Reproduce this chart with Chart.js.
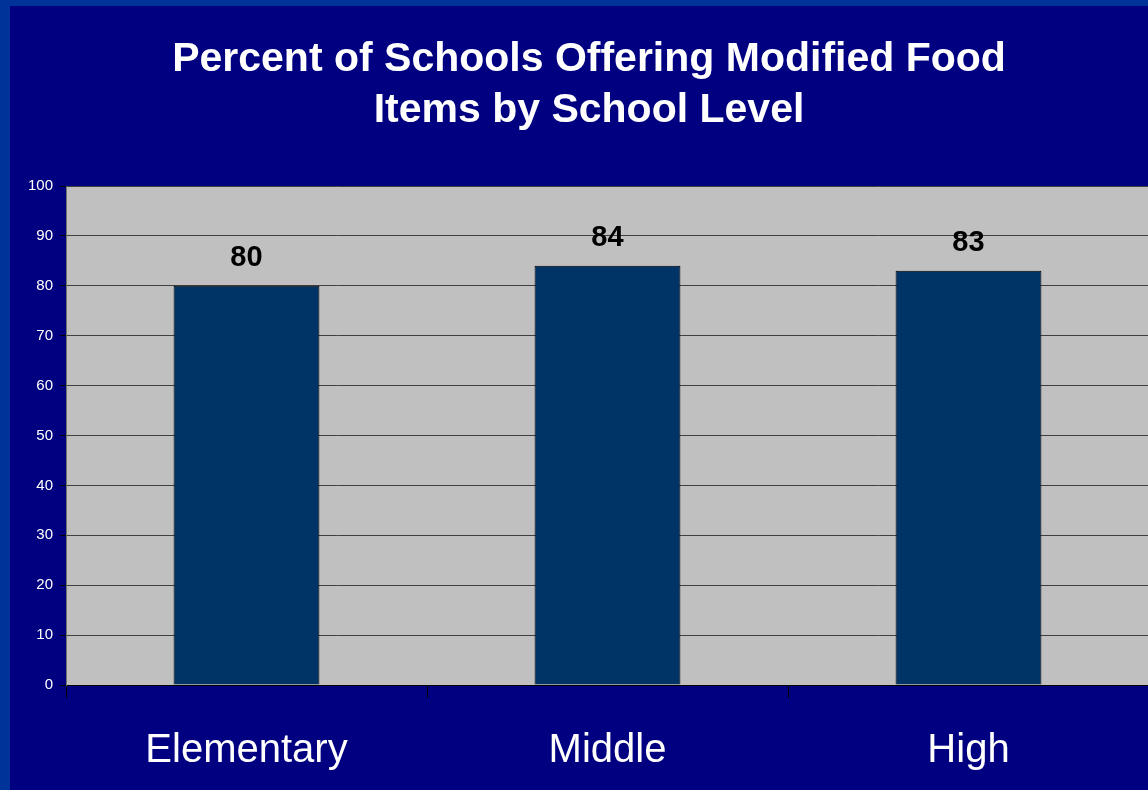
<!DOCTYPE html>
<html>
<head>
<meta charset="utf-8">
<script src="https://cdn.jsdelivr.net/npm/chart.js@4/dist/chart.umd.min.js"></script>
<style>
  html, body { margin: 0; padding: 0; overflow: hidden; background: #000080; }
  #wrap { position: absolute; left: 0; top: 0; width: 1151px; height: 790px; }
</style>
</head>
<body>
<div id="wrap"><canvas id="c" width="1151" height="790"></canvas></div>
<script>
const titleLines = ["Percent of Schools Offering Modified Food", "Items by School Level"];
const categories = ["Elementary", "Middle", "High"];
const values = [80, 84, 83];
const yTicks = [0, 10, 20, 30, 40, 50, 60, 70, 80, 90, 100];

const bgPlugin = {
  id: 'bg',
  beforeDraw(chart) {
    const ctx = chart.ctx;
    const a = chart.chartArea;
    ctx.save();
    ctx.fillStyle = '#003399';
    ctx.fillRect(0, 0, chart.width, chart.height);
    ctx.fillStyle = '#000080';
    ctx.fillRect(10, 6, chart.width - 10, chart.height - 6);
    ctx.fillStyle = '#C0C0C0';
    ctx.fillRect(a.left, a.top, a.right - a.left + 3, a.bottom - a.top);
    ctx.restore();
  },
  afterDraw(chart) {
    const ctx = chart.ctx;
    ctx.save();
    ctx.fillStyle = '#FFFFFF';
    ctx.font = 'bold 41px "Liberation Sans", Arial, sans-serif';
    ctx.textAlign = 'center';
    ctx.textBaseline = 'alphabetic';
    ctx.fillText(titleLines[0], 589, 71);
    ctx.fillText(titleLines[1], 589, 122);
    ctx.restore();
  }
};

const labelPlugin = {
  id: 'vals',
  afterDatasetsDraw(chart) {
    const ctx = chart.ctx;
    const meta = chart.getDatasetMeta(0);
    ctx.save();
    ctx.fillStyle = '#000000';
    ctx.font = 'bold 29px "Liberation Sans", Arial, sans-serif';
    ctx.textAlign = 'center';
    ctx.textBaseline = 'alphabetic';
    meta.data.forEach((bar, i) => {
      ctx.fillText(String(values[i]), bar.x, bar.y - 20);
    });
    ctx.restore();
  }
};

new Chart(document.getElementById('c'), {
  type: 'bar',
  data: {
    labels: categories,
    datasets: [{
      data: values,
      backgroundColor: '#003366',
      borderColor: '#000000',
      borderWidth: 1,
      categoryPercentage: 1.0,
      barPercentage: 0.404
    }]
  },
  options: {
    responsive: false,
    animation: false,
    devicePixelRatio: 1,
    layout: { padding: { left: 0, top: 186, right: 2, bottom: 0 } },
    plugins: { legend: { display: false }, tooltip: { enabled: false }, title: { display: false } },
    scales: {
      x: {
        afterFit(s) { s.height = 105; },
        grid: { offset: true, drawOnChartArea: false, tickLength: 13, color: '#000000', tickColor: '#000000' },
        border: { color: '#000000', width: 1 },
        ticks: { color: '#FFFFFF', font: { family: '"Liberation Sans", Arial, sans-serif', size: 40 }, padding: 29, maxRotation: 0 }
      },
      y: {
        min: 0, max: 100,
        afterFit(s) { s.width = 66; },
        afterBuildTicks(s) { s.ticks = yTicks.map(v => ({ value: v })); },
        grid: { color: '#404040', tickColor: '#000000', tickLength: 6, lineWidth: 1 },
        border: { color: '#707070', width: 1 },
        ticks: { color: '#FFFFFF', font: { family: '"Liberation Sans", Arial, sans-serif', size: 15 }, padding: 7 }
      }
    }
  },
  plugins: [bgPlugin, labelPlugin]
});
</script>
</body>
</html>
